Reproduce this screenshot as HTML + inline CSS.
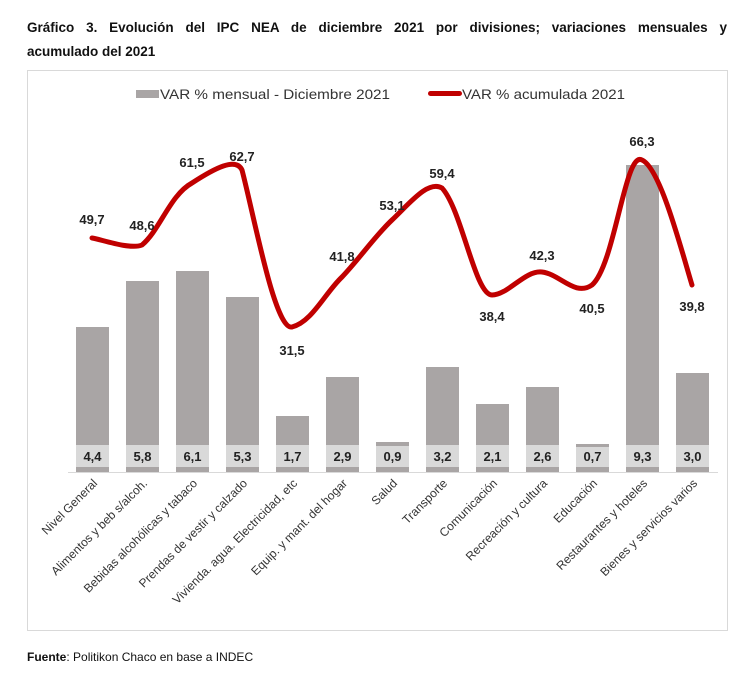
<!DOCTYPE html>
<html><head><meta charset="utf-8"><style>
body{margin:0;background:#fff;font-family:"Liberation Sans",sans-serif;}
.t{position:absolute;left:27px;width:700px;font-weight:bold;font-size:13.5px;color:#111;text-align:justify;text-align-last:justify;line-height:24px}
</style></head><body>
<div style="position:relative;width:750px;height:679px;overflow:hidden">
<div class="t" style="top:16px">Gráfico 3. Evolución del IPC NEA de diciembre 2021 por divisiones; variaciones mensuales y</div>
<div class="t" style="top:40px;text-align-last:left">acumulado del 2021</div>
<svg width="750" height="679" style="position:absolute;left:0;top:0" font-family="Liberation Sans, sans-serif">
<rect x="27.5" y="70.5" width="700" height="560" fill="none" stroke="#d9d9d9"/>
<rect x="136" y="90" width="23" height="8" fill="#a9a5a5"/>
<text x="160" y="99" font-size="14" fill="#333" textLength="230" lengthAdjust="spacingAndGlyphs">VAR % mensual - Diciembre 2021</text>
<rect x="428" y="91" width="34" height="5" rx="2.5" fill="#c00000"/>
<text x="462" y="99" font-size="14" fill="#333" textLength="163" lengthAdjust="spacingAndGlyphs">VAR % acumulada 2021</text>
<g fill="#a9a5a5">
<rect x="76" y="327" width="33" height="145"/><rect x="126" y="281" width="33" height="191"/>
<rect x="176" y="271" width="33" height="201"/><rect x="226" y="297" width="33" height="175"/>
<rect x="276" y="416" width="33" height="56"/><rect x="326" y="377" width="33" height="95"/>
<rect x="376" y="442" width="33" height="30"/><rect x="426" y="367" width="33" height="105"/>
<rect x="476" y="404" width="33" height="68"/><rect x="526" y="387" width="33" height="85"/>
<rect x="576" y="444" width="33" height="28"/><rect x="626" y="165" width="33" height="307"/>
<rect x="676" y="373" width="33" height="99"/>
</g>
<g fill="#d9d9d9">
<rect x="76" y="445" width="33" height="22"/><rect x="126" y="445" width="33" height="22"/><rect x="176" y="445" width="33" height="22"/><rect x="226" y="445" width="33" height="22"/><rect x="276" y="445" width="33" height="22"/><rect x="326" y="445" width="33" height="22"/><rect x="376" y="446" width="33" height="21"/><rect x="426" y="445" width="33" height="22"/><rect x="476" y="445" width="33" height="22"/><rect x="526" y="445" width="33" height="22"/><rect x="576" y="447" width="33" height="20"/><rect x="626" y="445" width="33" height="22"/><rect x="676" y="445" width="33" height="22"/>
</g>
<line x1="68" y1="472.5" x2="718" y2="472.5" stroke="#d9d9d9"/>
<g font-size="13" font-weight="bold" fill="#222" text-anchor="middle">
<text x="92.5" y="461">4,4</text><text x="142.5" y="461">5,8</text><text x="192.5" y="461">6,1</text><text x="242.5" y="461">5,3</text><text x="292.5" y="461">1,7</text><text x="342.5" y="461">2,9</text><text x="392.5" y="461">0,9</text><text x="442.5" y="461">3,2</text><text x="492.5" y="461">2,1</text><text x="542.5" y="461">2,6</text><text x="592.5" y="461">0,7</text><text x="642.5" y="461">9,3</text><text x="692.5" y="461">3,0</text>
</g>
<path d="M92,238 C100,239 130,250 142,245 C160,230 170,195 192,183 C215,168 236,157 242,170 C255,220 275,330 292,327 C312,322 325,293 342,277 C360,258 375,236 392,220 C410,203 428,180 442,188 C462,210 475,295 492,295 C508,295 525,270 542,272 C560,274 575,297 592,285 C615,265 625,150 642,160 C660,168 680,245 692,285" fill="none" stroke="#c00000" stroke-width="5" stroke-linecap="round"/>
<g font-size="13" font-weight="bold" fill="#222" text-anchor="middle">
<text x="92" y="224">49,7</text><text x="142" y="230">48,6</text><text x="192" y="167">61,5</text><text x="242" y="161">62,7</text><text x="292" y="355">31,5</text><text x="342" y="261">41,8</text><text x="392" y="210">53,1</text><text x="442" y="178">59,4</text><text x="492" y="321">38,4</text><text x="542" y="260">42,3</text><text x="592" y="313">40,5</text><text x="642" y="146">66,3</text><text x="692" y="311">39,8</text>
</g>
<g font-size="12" fill="#333" text-anchor="end">
<text transform="translate(98,484) rotate(-45)">Nivel General</text>
<text transform="translate(148,484) rotate(-45)">Alimentos y beb s/alcoh.</text>
<text transform="translate(198,484) rotate(-45)">Bebidas alcohólicas y tabaco</text>
<text transform="translate(248,484) rotate(-45)">Prendas de vestir y calzado</text>
<text transform="translate(298,484) rotate(-45)">Vivienda. agua. Electricidad, etc</text>
<text transform="translate(348,484) rotate(-45)">Equip. y mant. del hogar</text>
<text transform="translate(398,484) rotate(-45)">Salud</text>
<text transform="translate(448,484) rotate(-45)">Transporte</text>
<text transform="translate(498,484) rotate(-45)">Comunicación</text>
<text transform="translate(548,484) rotate(-45)">Recreación y cultura</text>
<text transform="translate(598,484) rotate(-45)">Educación</text>
<text transform="translate(648,484) rotate(-45)">Restaurantes y hoteles</text>
<text transform="translate(698,484) rotate(-45)">Bienes y servicios varios</text>
</g>
<text x="27" y="661" font-size="12" fill="#111"><tspan font-weight="bold">Fuente</tspan>: Politikon Chaco en base a INDEC</text>
</svg>
</div>
</body></html>
